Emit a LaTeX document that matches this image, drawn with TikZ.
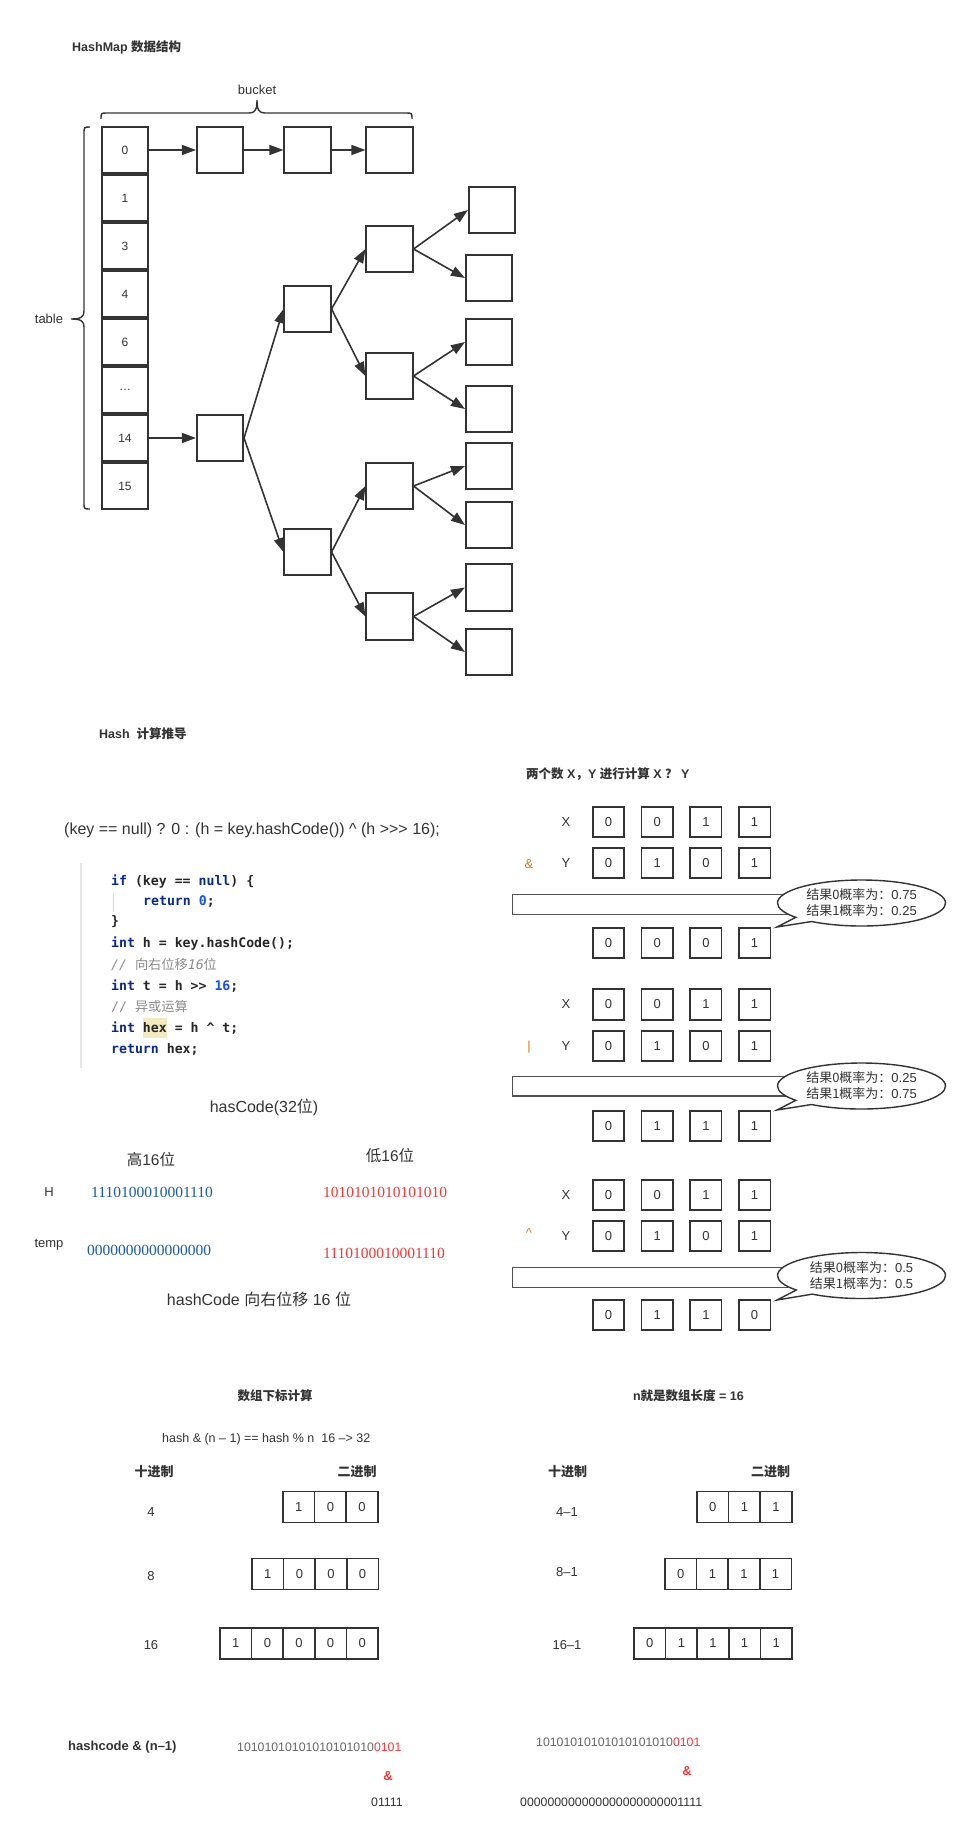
\documentclass[tikz,border=0pt]{standalone}
\usepackage{fontspec}
\setmainfont{Liberation Sans}
\newfontfamily\zhfont{Noto Sans CJK SC}
\newfontfamily\codefont{DejaVu Sans Mono}
\newfontfamily\numfont{Liberation Serif}
\newcommand\zhtxt[1]{{\zhfont #1}}
\usetikzlibrary{backgrounds}
\usetikzlibrary{arrows.meta,shapes.callouts,positioning}

\definecolor{ink}{HTML}{333333}
\definecolor{kw}{HTML}{0A2A8C}
\definecolor{num}{HTML}{1750EB}
\definecolor{cmt}{HTML}{8C8C8C}
\definecolor{hexbg}{HTML}{F3EAC2}
\definecolor{hiblue}{HTML}{1C5AA8}
\definecolor{lored}{HTML}{F03A3A}
\definecolor{opc}{HTML}{D97B1E}
\definecolor{bitgray}{HTML}{666666}
\newcommand\kwd[1]{\textcolor{kw}{#1}}

\tikzset{
    box/.style={draw=ink, line width=1.6pt, minimum width=46.5pt, minimum height=46.5pt,
        inner sep=0pt, text=ink, font=\fontsize{12}{14}\selectfont},
    arr/.style={draw=ink, line width=1.6pt, -{Triangle[length=14pt,width=10pt]}},
    bit/.style={draw=ink, line width=1.6pt, minimum width=31.5pt, minimum height=30.5pt,
        inner sep=0pt, text=ink, font=\fontsize{13}{15}\selectfont},
    cell/.style={draw=ink, line width=1.6pt, minimum width=31.6pt, minimum height=31pt,
        inner sep=0pt, text=ink, font=\fontsize{13}{15}\selectfont},
    lbl/.style={text=ink, inner sep=0pt, font=\fontsize{13}{15}\selectfont},
    title/.style={text=ink, inner sep=0pt, anchor=west, font=\fontsize{12.5}{15}\selectfont\bfseries},
    code/.style={anchor=west, inner sep=0pt, text=black!85, font=\fontsize{13.2}{20}\selectfont\codefont\bfseries},
    serifnum/.style={anchor=west, inner sep=0pt, font=\fontsize{15.5}{18}\selectfont\numfont},
    bitstr/.style={anchor=west, inner sep=0pt, text=bitgray, font=\fontsize{12.3}{15}\selectfont},
    bar/.style={draw=ink!85, line width=1.4pt, minimum width=275pt, minimum height=19.6pt,
        inner sep=0pt, anchor=west},
    bubble/.style={ellipse callout, draw=ink, line width=1.4pt, fill=white, minimum width=168pt,
        minimum height=46pt, inner sep=0pt, align=center, text=ink, font=\fontsize{13}{16}\selectfont},
}

\begin{document}
\begin{tikzpicture}[
    x=1pt, y=-1pt,
    show background rectangle,
    tight background,
    background rectangle/.style={fill=white},
 ]
    \useasboundingbox (0,0) rectangle (970,1845);

    \node[title] (hmTitle) at (72,47) {HashMap \zhtxt{数据结构}};
    \node[lbl] (bucketLbl) at (257,90) {bucket};
    \node[lbl] (tableLbl) at (49,319) {table};
    \draw[ink, line width=1.4pt] (101,119) .. controls (101,113) .. (107,113) -- (249,113)
        .. controls (255,113) and (257,110) .. (257,100)
        .. controls (257,110) and (259,113) .. (265,113) -- (406,113)
        .. controls (412,113) .. (412,119);
    \draw[ink, line width=1.4pt] (90,127) .. controls (84,127) .. (84,134) -- (84,311)
        .. controls (84,317) and (81,319) .. (71,319)
        .. controls (81,319) and (84,321) .. (84,327) -- (84,503)
        .. controls (84,509) .. (90,509);

    \foreach \v [count=\i from 0] in {0,1,3,4,6,\ldots,14,15}
        \node[box] (t\i) at (125,{150+48*\i}) {\v};

    \node[box] (b1) at (220,150) {};
    \node[box] (b2) at (307.5,150) {};
    \node[box] (b3) at (389.5,150) {};
    \draw[arr] (t0) -- (b1);
    \draw[arr] (b1) -- (b2);
    \draw[arr] (b2) -- (b3);

    \node[box] (n0) at (220,438) {};
    \node[box] (n1) at (307.5,309) {};
    \node[box] (n2) at (307.5,552) {};
    \node[box] (n11) at (389.5,249) {};
    \node[box] (n12) at (389.5,376) {};
    \node[box] (n21) at (389.5,486) {};
    \node[box] (n22) at (389.5,616.5) {};
    \node[box] (n111) at (492,210) {};
    \node[box] (n112) at (489,278) {};
    \node[box] (n121) at (489,342) {};
    \node[box] (n122) at (489,409) {};
    \node[box] (n211) at (489,466) {};
    \node[box] (n212) at (489,525) {};
    \node[box] (n221) at (489,587.5) {};
    \node[box] (n222) at (489,652) {};
    \draw[arr] (t6) -- (n0);
    \draw[arr] (n0.east) -- (n1.west);
    \draw[arr] (n0.east) -- (n2.west);
    \draw[arr] (n1.east) -- (n11.west);
    \draw[arr] (n1.east) -- (n12.west);
    \draw[arr] (n2.east) -- (n21.west);
    \draw[arr] (n2.east) -- (n22.west);
    \draw[arr] (n11.east) -- (n111.west);
    \draw[arr] (n11.east) -- (n112.west);
    \draw[arr] (n12.east) -- (n121.west);
    \draw[arr] (n12.east) -- (n122.west);
    \draw[arr] (n21.east) -- (n211.west);
    \draw[arr] (n21.east) -- (n212.west);
    \draw[arr] (n22.east) -- (n221.west);
    \draw[arr] (n22.east) -- (n222.west);

    \node[title] (hashTitle) at (99,734) {Hash\ \ \zhtxt{计算推导}};
    \node[lbl, anchor=west, font=\fontsize{16}{18}\selectfont] (formula) at (64,830)
        {(key == null) ? 0 : (h = key.hashCode()) \textasciicircum{} (h {>}{>}{>} 16);};
    \draw[black!10, line width=1.5pt] (81,863) -- (81,1068);
    \draw[black!15, line width=0.8pt] (113,893) -- (113,912);
    \node[code] (c1) at (111,881) {\kwd{if} (key == \kwd{null}) \{};
    \node[code] (c2) at (143,902) {\kwd{return} \textcolor{num}{0};};
    \node[code] (c3) at (111,922) {\}};
    \node[code] (c4) at (111,943) {\kwd{int} h = key.hashCode();};
    \node[code, text=cmt] (c5) at (111,965) {\mdseries\itshape // \zhtxt{向右位移}16\zhtxt{位}};
    \node[code] (c6) at (111,986) {\kwd{int} t = h >> \textcolor{num}{16};};
    \node[code, text=cmt] (c7) at (111,1007) {\mdseries // \zhtxt{异或运算}};
    \node[code] (c8) at (111,1028) {\kwd{int} {\fboxsep=0pt\colorbox{hexbg}{\strut hex}} = h \textasciicircum{} t;};
    \node[code] (c9) at (111,1049) {\kwd{return} hex;};

    \node[lbl, font=\fontsize{16}{18}\selectfont] (hasCode) at (264,1107) {hasCode(32\zhtxt{位})};
    \node[lbl, font=\fontsize{15.5}{18}\selectfont] (highLbl) at (151,1160) {\zhtxt{高}16\zhtxt{位}};
    \node[lbl, font=\fontsize{15.5}{18}\selectfont] (lowLbl) at (390,1156) {\zhtxt{低}16\zhtxt{位}};
    \node[lbl] (hLbl) at (49,1192) {H};
    \node[lbl] (tempLbl) at (49,1245) {temp};
    \node[serifnum, text=hiblue] (hHigh) at (91,1192) {1110100010001110};
    \node[serifnum, text=lored] (hLow) at (323,1192) {1010101010101010};
    \node[serifnum, text=hiblue] (tHigh) at (87,1250) {0000000000000000};
    \node[serifnum, text=lored] (tLow) at (323,1253) {1110100010001110};
    \node[lbl, font=\fontsize{16}{18}\selectfont] (shiftNote) at (259,1299)
        {hashCode \zhtxt{向右位移} 16 \zhtxt{位}};

    \node[title] (xyTitle) at (526,774) {\zhtxt{两个数} X\zhtxt{，}Y \zhtxt{进行计算} X \zhtxt{？} Y};

    \node[lbl] (x1Lbl) at (566,822) {X};
    \node[lbl] (y1Lbl) at (566,863) {Y};
    \node[lbl, text=opc] (op1) at (529,864) {\&};
    \foreach \xb/\yb/\rb [count=\i] in {0/0/0,0/1/0,1/0/0,1/1/1} {
        \node[bit] (xa\i) at ({559.8+48.7*\i},822) {\xb};
        \node[bit] (ya\i) at ({559.8+48.7*\i},863) {\yb};
        \node[bit] (ra\i) at ({559.8+48.7*\i},943) {\rb};
    }
    \node[bar] (bar1) at (512,904.5) {};
    \node[bubble, callout absolute pointer={(777,927)}] (note1) at (861.5,903)
        {\zhtxt{结果0概率为：}0.75\\\zhtxt{结果1概率为：}0.25};

    \node[lbl] (x2Lbl) at (566,1004.5) {X};
    \node[lbl] (y2Lbl) at (566,1046) {Y};
    \node[lbl, text=opc] (op2) at (529,1047) {|};
    \foreach \xb/\yb/\rb [count=\i] in {0/0/0,0/1/1,1/0/1,1/1/1} {
        \node[bit] (xb\i) at ({559.8+48.7*\i},1004.5) {\xb};
        \node[bit] (yb\i) at ({559.8+48.7*\i},1046) {\yb};
        \node[bit] (rb\i) at ({559.8+48.7*\i},1126) {\rb};
    }
    \node[bar] (bar2) at (512,1086) {};
    \node[bubble, callout absolute pointer={(777,1110)}] (note2) at (861.5,1086)
        {\zhtxt{结果0概率为：}0.25\\\zhtxt{结果1概率为：}0.75};

    \node[lbl] (x3Lbl) at (566,1195) {X};
    \node[lbl] (y3Lbl) at (566,1236) {Y};
    \node[lbl, text=opc] (op3) at (529,1233) {\textasciicircum};
    \foreach \xb/\yb/\rb [count=\i] in {0/0/0,0/1/1,1/0/1,1/1/0} {
        \node[bit] (xc\i) at ({559.8+48.7*\i},1195) {\xb};
        \node[bit] (yc\i) at ({559.8+48.7*\i},1236) {\yb};
        \node[bit] (rc\i) at ({559.8+48.7*\i},1315) {\rb};
    }
    \node[bar] (bar3) at (512,1277.5) {};
    \node[bubble, callout absolute pointer={(777,1300)}] (note3) at (861.5,1275.5)
        {\zhtxt{结果0概率为：}0.5\\\zhtxt{结果1概率为：}0.5};

    \node[title, anchor=center] (idxTitle) at (275,1396) {\zhtxt{数组下标计算}};
    \node[lbl, anchor=west, font=\fontsize{12.5}{15}\selectfont] (idxRule) at (162,1439)
        {hash \& (n – 1) == hash \% n\ \ 16 –{>} 32};
    \node[lbl, font=\fontsize{13}{15}\selectfont\bfseries] (decL) at (154,1472) {\zhtxt{十进制}};
    \node[lbl, font=\fontsize{13}{15}\selectfont\bfseries] (binL) at (357,1472) {\zhtxt{二进制}};
    \node[lbl] (d4) at (151,1512) {4};
    \node[lbl] (d8) at (151,1576) {8};
    \node[lbl] (d16) at (151,1645) {16};
    \foreach \v [count=\i] in {1,0,0}
        \node[cell] (pa\i) at ({267.2+31.6*\i},1507) {\v};
    \foreach \v [count=\i] in {1,0,0,0}
        \node[cell] (pb\i) at ({236.2+31.6*\i},1574) {\v};
    \foreach \v [count=\i] in {1,0,0,0,0}
        \node[cell] (pc\i) at ({204.2+31.6*\i},1643.5) {\v};

    \node[title, anchor=center] (lenTitle) at (688.5,1396) {n\zhtxt{就是数组长度} = 16};
    \node[lbl, font=\fontsize{13}{15}\selectfont\bfseries] (decR) at (567.5,1472) {\zhtxt{十进制}};
    \node[lbl, font=\fontsize{13}{15}\selectfont\bfseries] (binR) at (770.5,1472) {\zhtxt{二进制}};
    \node[lbl] (m4) at (567,1512) {4–1};
    \node[lbl] (m8) at (567,1572) {8–1};
    \node[lbl] (m16) at (567,1645) {16–1};
    \foreach \v [count=\i] in {0,1,1}
        \node[cell] (qa\i) at ({681.2+31.6*\i},1507) {\v};
    \foreach \v [count=\i] in {0,1,1,1}
        \node[cell] (qb\i) at ({649.2+31.6*\i},1574) {\v};
    \foreach \v [count=\i] in {0,1,1,1,1}
        \node[cell] (qc\i) at ({618.2+31.6*\i},1643.5) {\v};

    \node[title, font=\fontsize{13}{15}\selectfont\bfseries] (hcLbl) at (68,1747) {hashcode \& (n–1)};
    \node[bitstr] (hcL) at (237,1747) {10101010101010101010\textcolor{lored}{0101}};
    \node[lbl, text=lored, font=\fontsize{13}{15}\selectfont\bfseries] (ampL) at (388,1776) {\&};
    \node[bitstr, text=ink] (maskL) at (371,1802) {01111};
    \node[bitstr] (hcR) at (536,1742) {10101010101010101010\textcolor{lored}{0101}};
    \node[lbl, text=lored, font=\fontsize{13}{15}\selectfont\bfseries] (ampR) at (687,1771) {\&};
    \node[bitstr, text=ink] (maskR) at (520,1802) {000000000000000000000001111};
\end{tikzpicture}
\end{document}
